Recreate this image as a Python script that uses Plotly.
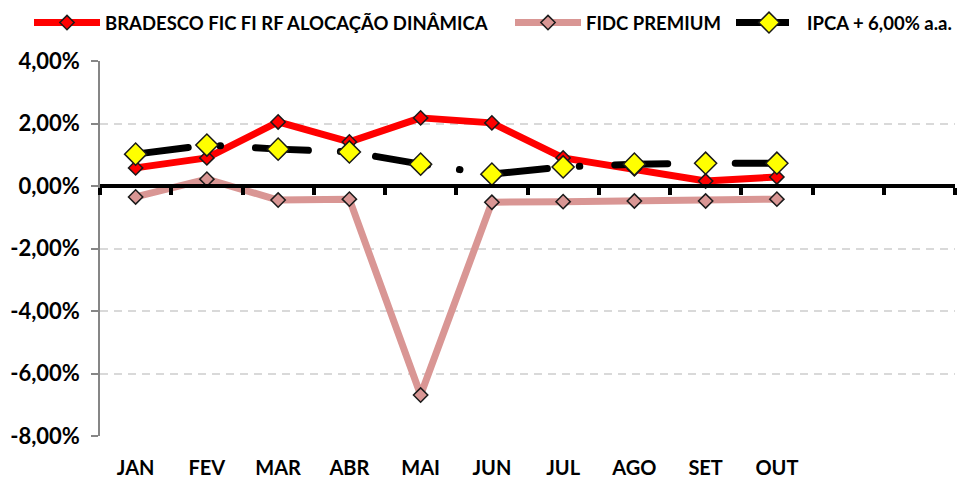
import plotly.graph_objects as go

months = ["JAN", "FEV", "MAR", "ABR", "MAI", "JUN", "JUL", "AGO", "SET", "OUT"]
bradesco = [0.58, 0.90, 2.05, 1.41, 2.18, 2.02, 0.90, 0.55, 0.16, 0.29]
fidc = [-0.35, 0.22, -0.45, -0.42, -6.69, -0.52, -0.50, -0.48, -0.48, -0.42]
ipca = [1.02, 1.31, 1.18, 1.09, 0.70, 0.38, 0.61, 0.70, 0.73, 0.73]
yticks = [-8, -6, -4, -2, 0, 2, 4]
ytick_labels = [f"{v:.2f}%".replace(".", ",") for v in yticks]
n_slots = 12

FONT = "Lato"
W, H = 973, 481

fig = go.Figure()
fig.add_trace(go.Scatter(
    x=months, y=bradesco, name="BRADESCO FIC FI RF ALOCAÇÃO DINÂMICA",
    mode="lines+markers", legend="legend",
    line=dict(color="#ff0000", width=7),
    marker=dict(symbol="diamond", size=11, color="#ff0000",
                line=dict(color="#1a1a1a", width=1.5)),
))
fig.add_trace(go.Scatter(
    x=months, y=fidc, name="FIDC PREMIUM",
    mode="lines+markers", legend="legend2",
    line=dict(color="#d99694", width=7),
    marker=dict(symbol="diamond", size=11, color="#d99694",
                line=dict(color="#1a1a1a", width=1.5)),
))
fig.add_trace(go.Scatter(
    x=months, y=ipca, name="IPCA + 6,00% a.a.",
    mode="lines+markers", legend="legend3",
    line=dict(color="#000000", width=7, dash="53px,32px,0.5px,35px"),
    marker=dict(symbol="diamond", size=17, color="#ffff00",
                line=dict(color="#1a1a1a", width=1.5)),
))
# invisible trace to activate the zero-line axis (xaxis2)
fig.add_trace(go.Scatter(x=[None], y=[None], xaxis="x2", showlegend=False, hoverinfo="skip"))

def leg(xpix):
    return dict(
        orientation="h", x=xpix / W, xanchor="left", xref="container",
        y=1 - 4 / H, yanchor="top", yref="container",
        font=dict(family=FONT, size=18.5, color="black", weight="bold"),
        itemwidth=66, bgcolor="rgba(0,0,0,0)", borderwidth=0,
    )

fig.update_layout(
    width=W, height=H,
    margin=dict(l=100, r=18, t=61, b=45, autoexpand=False),
    paper_bgcolor="white", plot_bgcolor="white",
    font=dict(family=FONT, color="black"),
    showlegend=True,
    legend=leg(29), legend2=leg(510), legend3=leg(731),
    xaxis=dict(
        type="category", categoryarray=months,
        range=[-0.5, n_slots - 0.5],
        showgrid=False, showline=False, zeroline=False, ticks="",
        tickfont=dict(family=FONT, size=20, weight="bold"),
        ticklabelstandoff=18, automargin=False,
    ),
    xaxis2=dict(
        type="linear", overlaying="x", anchor="free",
        position=(0 - min(yticks)) / (max(yticks) - min(yticks)),
        range=[-0.5, n_slots - 0.5],
        tickvals=[i - 0.5 for i in range(n_slots + 1)],
        showticklabels=False, showgrid=False, zeroline=False,
        showline=True, linecolor="black", linewidth=4,
        ticks="outside", ticklen=7, tickwidth=4, tickcolor="black",
    ),
    yaxis=dict(
        range=[min(yticks), max(yticks)], tickvals=yticks, ticktext=ytick_labels,
        showgrid=True, gridcolor="#d9d9d9", gridwidth=1.5, griddash="8px,6px",
        zeroline=False, automargin=False,
        showline=True, linecolor="#868686", linewidth=1.5,
        ticks="outside", ticklen=7, tickwidth=1.5, tickcolor="#868686",
        tickfont=dict(family=FONT, size=22, weight="bold"),
        ticklabelstandoff=7,
    ),
)

post = """
document.body.style.margin='0';
document.querySelectorAll('.scatterlayer path.js-line').forEach(function(p){
  p.style.strokeLinecap='round'; p.style.strokeLinejoin='round';
});
"""
fig.write_html("out.html", post_script=post, config={"displayModeBar": False})
